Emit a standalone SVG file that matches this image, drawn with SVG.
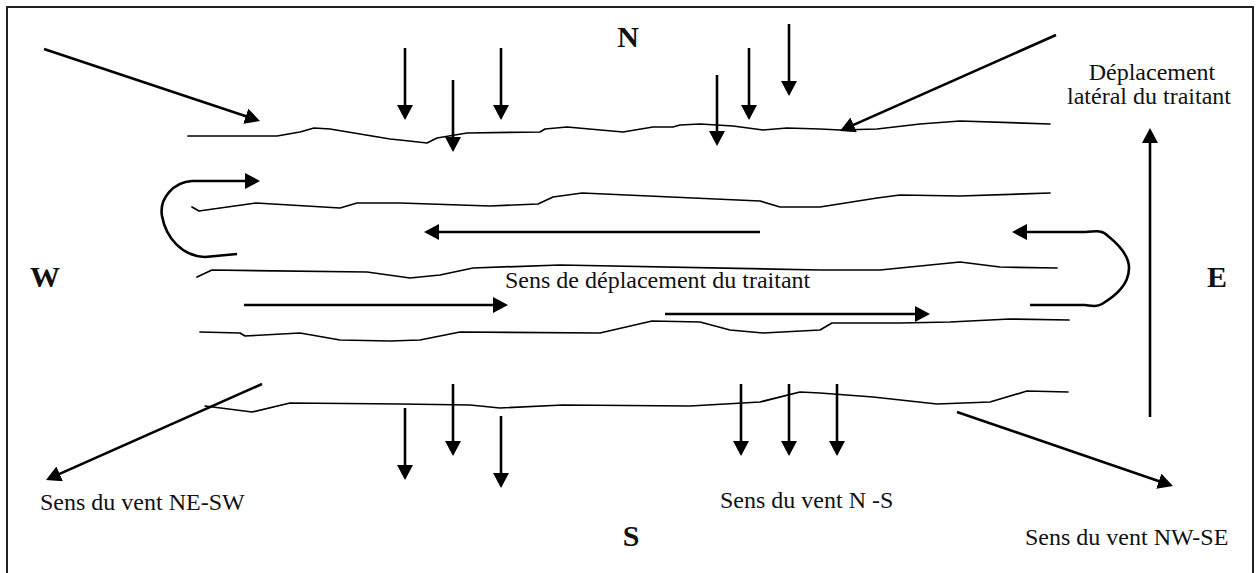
<svg xmlns="http://www.w3.org/2000/svg" width="1256" height="573" viewBox="0 0 1256 573">
<style>
.band{fill:none;stroke:#000;stroke-width:1.7;stroke-linejoin:round;stroke-linecap:round}
.arr{fill:none;stroke:#000;stroke-width:2.6;marker-end:url(#ah)}
.txt{font-family:"Liberation Serif","Times New Roman",serif;font-size:24px;fill:#111}
.big{font-family:"Liberation Serif","Times New Roman",serif;font-size:30px;font-weight:bold;fill:#111;text-anchor:middle}
</style>
<defs>
<marker id="ah" markerUnits="userSpaceOnUse" markerWidth="16" markerHeight="16" refX="5" refY="8" orient="auto">
<path d="M0,0 L15,8 L0,16 z" fill="#000"/>
</marker>
</defs>
<rect width="1256" height="573" fill="#fff"/>
<rect id="frame" x="7" y="7" width="1246" height="600" fill="none" stroke="#222" stroke-width="2"/>

<g id="bands">
<path id="band1" class="band" d="M188,136 L277,136 L300,132 L314,128 L330,129 L390,139 L400,140 L427,143 L437,138 L467,133 L540,132 L545,129 L567,127 L623,132 L653,127 L673,127 L680,125 L700,124 L733,126 L763,130 L787,128 L820,129 L840,130 L877,129 L920,124 L960,121 L1050,124"/>
<path id="band2" class="band" d="M192,207 L199,211 L256,203 L340,208 L357,203 L400,203 L490,206 L538,204 L553,197 L582,193 L760,201 L780,207 L820,207 L877,198 L900,195 L960,196 L1050,193"/>
<path id="band3" class="band" d="M197,277 L212,270 L367,272 L410,278 L440,275 L473,268 L560,265 L820,270 L880,270 L960,262 L1000,267 L1057,268"/>
<path id="band4" class="band" d="M200,332 L240,333 L245,336 L300,333 L340,340 L390,341 L420,340 L460,332 L600,333 L652,321 L700,322 L730,330 L763,333 L820,330 L832,323 L900,323 L950,322 L1010,319 L1069,320"/>
<path id="band5" class="band" d="M205,406 L252,412 L290,403 L400,404 L470,405 L500,408 L563,405 L690,406 L760,402 L800,392 L820,393 L873,397 L937,404 L990,402 L1027,391 L1068,392"/>
</g>

<g id="connectors">
<line id="wind-nw" class="arr" x1="44" y1="49" x2="250.5" y2="117.8"/>
<line id="wind-ne" class="arr" x1="1056" y1="35" x2="849.1" y2="126.9"/>
<line id="wind-sw" class="arr" x1="262" y1="384" x2="55.1" y2="475.9"/>
<line id="wind-se" class="arr" x1="957" y1="412" x2="1163.5" y2="482.8"/>

<line class="arr" x1="405" y1="48" x2="405" y2="110"/>
<line class="arr" x1="453" y1="80" x2="453" y2="142"/>
<line class="arr" x1="501" y1="48" x2="501" y2="110"/>
<line class="arr" x1="717" y1="75" x2="717" y2="136"/>
<line class="arr" x1="749" y1="48" x2="749" y2="110"/>
<line class="arr" x1="789" y1="24" x2="789" y2="86"/>

<line class="arr" x1="405" y1="408" x2="405" y2="470"/>
<line class="arr" x1="453" y1="384" x2="453" y2="446"/>
<line class="arr" x1="501" y1="416" x2="501" y2="478"/>
<line class="arr" x1="741" y1="384" x2="741" y2="446"/>
<line class="arr" x1="789" y1="384" x2="789" y2="446"/>
<line class="arr" x1="837" y1="384" x2="837" y2="446"/>

<path id="uturn-left" class="arr" stroke-width="1.8" d="M237,254 L205,257 C182,256 166,238 162,216 C159,198 174,182 192,181 L250,181"/>
<path id="uturn-right" class="arr" stroke-width="1.8" d="M1030,305 L1085,305 C1092,306 1097,307 1102,304 C1115,296 1129,285 1129,268 C1129,255 1118,244 1108,236 C1102,230 1097,231 1085,232 L1022,232"/>
<line class="arr" x1="760" y1="232" x2="434" y2="232"/>
<line class="arr" x1="244" y1="305" x2="498" y2="305"/>
<line class="arr" x1="665" y1="314" x2="920" y2="314"/>
<line id="lateral" class="arr" x1="1150" y1="417" x2="1150" y2="138"/>
</g>

<g id="labels">
<text class="big" x="628" y="47">N</text>
<text class="big" x="45" y="287">W</text>
<text class="big" x="1217" y="287">E</text>
<text class="big" x="631" y="546">S</text>
<text class="txt" x="1152" y="80" text-anchor="middle">Déplacement</text>
<text class="txt" x="1149" y="104" text-anchor="middle">latéral du traitant</text>
<text class="txt" x="505" y="288">Sens de déplacement du traitant</text>
<text class="txt" x="40" y="510">Sens du vent NE-SW</text>
<text class="txt" x="720" y="508">Sens du vent N -S</text>
<text class="txt" x="1025" y="545">Sens du vent NW-SE</text>
</g>
</svg>
